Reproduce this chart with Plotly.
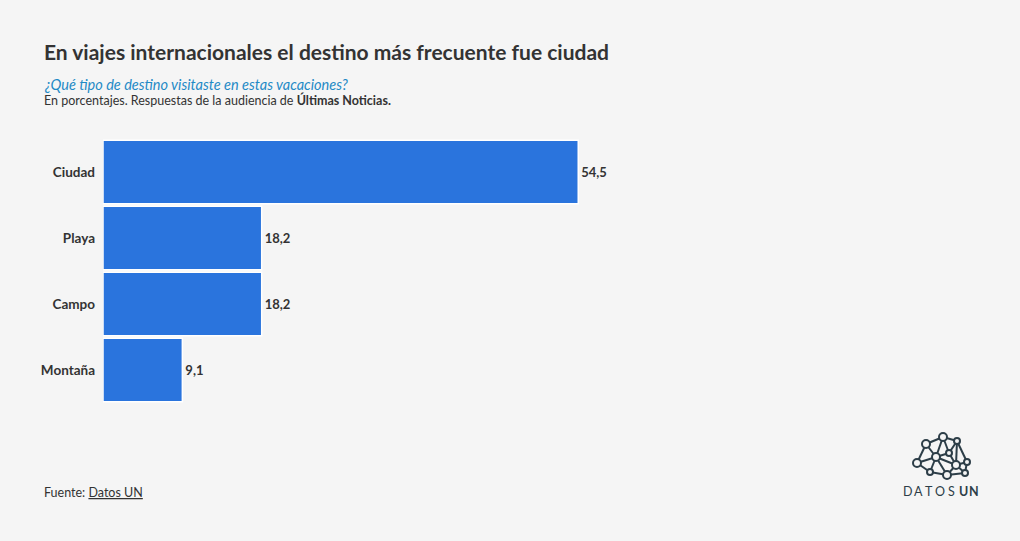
import plotly.graph_objects as go

categories = ["Ciudad", "Playa", "Campo", "Montaña"]
values = [54.5, 18.2, 18.2, 9.1]
value_labels = ["54,5", "18,2", "18,2", "9,1"]

W, H = 1020, 541
L, R, T, B = 103, 975, 139, 403
FONT = "Lato"
DARK = "#333333"

def px(x):
    return (x - L) / (R - L)

def py(y):
    return (B - y) / (B - T)

fig = go.Figure(go.Bar(
    y=categories, x=values, orientation="h",
    marker=dict(color="#2a74dd", line=dict(color="#ffffff", width=1.5)),
    text=value_labels, textposition="outside",
    textfont=dict(family=FONT, size=13, color=DARK),
    texttemplate="<b>%{text}</b>", cliponaxis=False,
    hoverinfo="skip",
))

fig.update_layout(
    width=W, height=H,
    margin=dict(l=L, r=W - R, t=T, b=H - B, pad=0),
    paper_bgcolor="#f5f5f5", plot_bgcolor="#f5f5f5",
    bargap=0.035, showlegend=False,
    xaxis=dict(range=[0, 100], visible=False, fixedrange=True),
    yaxis=dict(autorange="reversed", showgrid=False, zeroline=False, showline=False,
               ticks="", ticklabelstandoff=7, fixedrange=True,
               tickfont=dict(family=FONT, size=13.5, color=DARK),
               tickvals=categories, ticktext=[f"<b>{c}</b>" for c in categories]),
    font=dict(family=FONT),
)

ann = []
def text(x, y, s, size, color=DARK, xanchor="left", yanchor="middle"):
    ann.append(dict(x=px(x), y=py(y), xref="paper", yref="paper", text=s, showarrow=False,
                    xanchor=xanchor, yanchor=yanchor,
                    font=dict(family=FONT, size=size, color=color)))

text(42, 52, "<b>En viajes internacionales el destino más frecuente fue ciudad</b>", 21)
text(42, 84, "<i>¿Qué tipo de destino visitaste en estas vacaciones?</i>", 14.5, color="#1f8ac6")
text(42, 100, "En porcentajes. Respuestas de la audiencia de <b>Últimas Noticias.</b>", 12.5)
text(42, 492, "Fuente: <u>Datos UN</u>", 12.5)

logo = "#2d3e48"
letters = ["D", "A", "T", "O", "S", "<b>U</b>", "<b>N</b>"]
lx = [908, 918, 929, 940, 951, 963, 974]
for ch, x in zip(letters, lx):
    text(x, 491, ch, 12.5, color=logo, xanchor="center")

nodes = [(943, 437), (926, 444), (957, 441), (936, 457), (949, 453), (917, 463),
         (930, 472), (947, 475), (956, 465), (967, 462), (965, 473)]
edges = [(0, 1), (0, 2), (0, 4), (1, 3), (1, 5), (3, 4), (3, 5), (3, 6), (3, 7), (4, 2),
         (4, 8), (2, 8), (2, 9), (8, 9), (8, 10), (9, 10), (5, 6), (6, 7), (7, 8), (7, 10),
         (0, 3), (3, 8)]
shapes = []
for a, b in edges:
    shapes.append(dict(type="line", xref="paper", yref="paper",
                       x0=px(nodes[a][0]), y0=py(nodes[a][1]),
                       x1=px(nodes[b][0]), y1=py(nodes[b][1]),
                       line=dict(color=logo, width=2)))
for i, (x, y) in enumerate(nodes):
    r = 4 if i in (0, 1, 3, 5, 7, 8) else 3
    shapes.append(dict(type="circle", xref="paper", yref="paper",
                       x0=px(x - r), x1=px(x + r), y0=py(y + r), y1=py(y - r),
                       fillcolor="#f5f5f5", line=dict(color=logo, width=2)))

fig.update_layout(annotations=ann, shapes=shapes)
fig.write_html("out.html", config={"displayModeBar": False},
               post_script="document.body.style.margin='0';")
